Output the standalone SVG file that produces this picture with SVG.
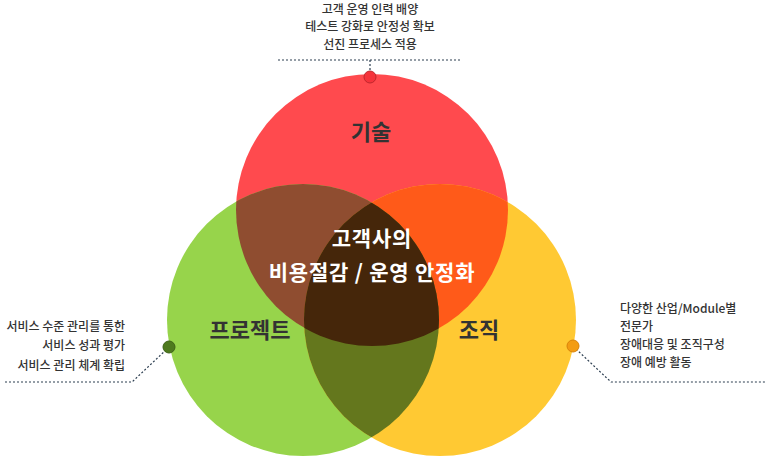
<svg xmlns="http://www.w3.org/2000/svg" width="767" height="466" viewBox="0 0 767 466">
<style>
text{font-family:"Noto Sans CJK KR","Noto Sans",sans-serif}
.s{font-size:12px;fill:#333;font-weight:500}
.t{font-size:22px;font-weight:bold;fill:#333}
.c{font-size:21px;font-weight:bold;fill:#fff;letter-spacing:0.8px}
.d{fill:none;stroke:#2c3e50;stroke-width:1.2;stroke-dasharray:2 2}
</style>
<defs>
<clipPath id="cg"><circle cx="303" cy="320" r="136"/></clipPath>
<clipPath id="cy"><circle cx="440" cy="320" r="136"/></clipPath>
</defs>
<g id="circles">
<circle cx="372" cy="210" r="136" fill="#ff4a4e"/>
<circle cx="303" cy="320" r="136" fill="#97d44b"/>
<circle cx="440" cy="320" r="136" fill="#ffc933"/>
<circle cx="372" cy="210" r="136" fill="#8f4d30" clip-path="url(#cg)"/>
<circle cx="372" cy="210" r="136" fill="#ff5a19" clip-path="url(#cy)"/>
<circle cx="303" cy="320" r="136" fill="#64771d" clip-path="url(#cy)"/>
<g clip-path="url(#cy)"><circle cx="372" cy="210" r="136" fill="#45260a" clip-path="url(#cg)"/></g>
</g>
<g id="connectors">
<path class="d" d="M278 60H460M370 60V72"/>
<path class="d" d="M5 382H132L166 350"/>
<path class="d" d="M576 349L611 382H765"/>
</g>
<g id="node-tech">
<circle cx="370" cy="77" r="6" fill="#f5333b" stroke="#c0272d" stroke-width="1"/>
<text class="t" x="371" y="140" text-anchor="middle">기술</text>
<text class="s" x="370" y="13.5" text-anchor="middle">고객 운영 인력 배양</text>
<text class="s" x="370" y="31" text-anchor="middle">테스트 강화로 안정성 확보</text>
<text class="s" x="370" y="49" text-anchor="middle">선진 프로세스 적용</text>
</g>
<g id="node-project">
<circle cx="169" cy="347" r="6" fill="#4e7a1e" stroke="#3d6216" stroke-width="1"/>
<text class="t" x="250" y="338" text-anchor="middle">프로젝트</text>
<text class="s" x="125" y="331" text-anchor="end">서비스 수준 관리를 통한</text>
<text class="s" x="125" y="350" text-anchor="end">서비스 성과 평가</text>
<text class="s" x="125" y="370" text-anchor="end">서비스 관리 체계 확립</text>
</g>
<g id="node-org">
<circle cx="573" cy="346" r="6" fill="#f39c12" stroke="#d9830a" stroke-width="1"/>
<text class="t" x="479" y="338" text-anchor="middle">조직</text>
<text class="s" x="620" y="313">다양한 산업/Module별</text>
<text class="s" x="620" y="331">전문가</text>
<text class="s" x="620" y="349">장애대응 및 조직구성</text>
<text class="s" x="620" y="367">장애 예방 활동</text>
</g>
<g id="node-center">
<text class="c" x="372" y="246" text-anchor="middle">고객사의</text>
<text class="c" x="372" y="280" text-anchor="middle">비용절감 / 운영 안정화</text>
</g>
</svg>
